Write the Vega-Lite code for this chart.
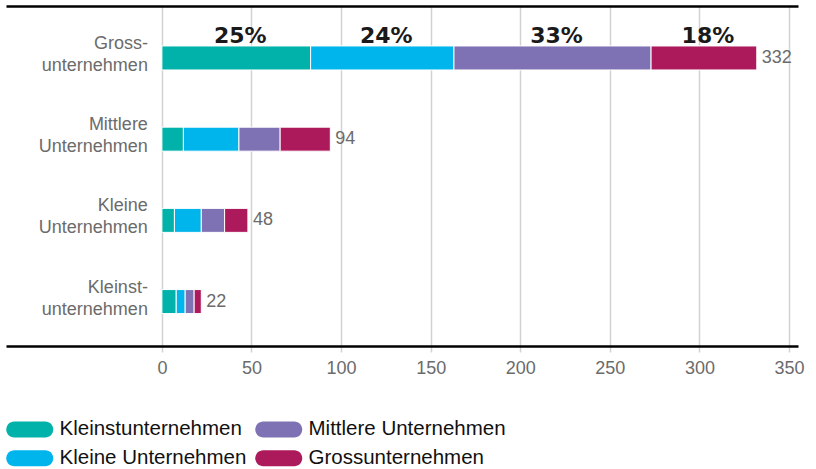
{
  "$schema": "https://vega.github.io/schema/vega-lite/v6.json",
  "width": 792,
  "height": 340,
  "padding": {"left": 6, "top": 6, "right": 18, "bottom": 0},
  "background": "white",
  "config": {"view": {"stroke": null}, "font": "Liberation Sans"},
  "datasets": {
    "segments": [
      {"size": "Grossunternehmen", "seg": "Kleinstunternehmen", "idx": 1, "value": 83, "pct": "25%"},
      {"size": "Grossunternehmen", "seg": "Kleine Unternehmen", "idx": 2, "value": 80, "pct": "24%"},
      {"size": "Grossunternehmen", "seg": "Mittlere Unternehmen", "idx": 3, "value": 110, "pct": "33%"},
      {"size": "Grossunternehmen", "seg": "Grossunternehmen", "idx": 4, "value": 59, "pct": "18%"},
      {"size": "Mittlere Unternehmen", "seg": "Kleinstunternehmen", "idx": 1, "value": 12, "pct": ""},
      {"size": "Mittlere Unternehmen", "seg": "Kleine Unternehmen", "idx": 2, "value": 31, "pct": ""},
      {"size": "Mittlere Unternehmen", "seg": "Mittlere Unternehmen", "idx": 3, "value": 23, "pct": ""},
      {"size": "Mittlere Unternehmen", "seg": "Grossunternehmen", "idx": 4, "value": 28, "pct": ""},
      {"size": "Kleine Unternehmen", "seg": "Kleinstunternehmen", "idx": 1, "value": 7, "pct": ""},
      {"size": "Kleine Unternehmen", "seg": "Kleine Unternehmen", "idx": 2, "value": 15, "pct": ""},
      {"size": "Kleine Unternehmen", "seg": "Mittlere Unternehmen", "idx": 3, "value": 13, "pct": ""},
      {"size": "Kleine Unternehmen", "seg": "Grossunternehmen", "idx": 4, "value": 13, "pct": ""},
      {"size": "Kleinstunternehmen", "seg": "Kleinstunternehmen", "idx": 1, "value": 8, "pct": ""},
      {"size": "Kleinstunternehmen", "seg": "Kleine Unternehmen", "idx": 2, "value": 5, "pct": ""},
      {"size": "Kleinstunternehmen", "seg": "Mittlere Unternehmen", "idx": 3, "value": 5, "pct": ""},
      {"size": "Kleinstunternehmen", "seg": "Grossunternehmen", "idx": 4, "value": 4, "pct": ""}
    ],
    "rows": [
      {"size": "Grossunternehmen", "label": "Gross-\nunternehmen"},
      {"size": "Mittlere Unternehmen", "label": "Mittlere\nUnternehmen"},
      {"size": "Kleine Unternehmen", "label": "Kleine\nUnternehmen"},
      {"size": "Kleinstunternehmen", "label": "Kleinst-\nunternehmen"}
    ]
  },
  "resolve": {"axis": {"x": "independent"}},
  "layer": [
    {
      "data": {"name": "segments"},
      "mark": {"type": "bar", "stroke": "white", "strokeWidth": 1},
      "encoding": {
        "y": {
          "field": "size", "type": "nominal",
          "scale": {
            "domain": ["Grossunternehmen", "Mittlere Unternehmen", "Kleine Unternehmen", "Kleinstunternehmen"],
            "paddingInner": 0.7044, "paddingOuter": 0.4457, "align": 0.552
          },
          "axis": null
        },
        "x": {
          "field": "value", "type": "quantitative", "stack": "zero",
          "scale": {"domain": [-87, 355], "nice": false, "zero": false},
          "axis": {
            "orient": "bottom", "title": null,
            "values": [0, 50, 100, 150, 200, 250, 300, 350],
            "grid": true, "gridColor": "#d2d2d2", "gridWidth": 1.5,
            "domain": true, "domainColor": "#000000", "domainWidth": 2.5,
            "ticks": true, "tickColor": "#d2d2d2", "tickWidth": 1.5, "tickSize": 6,
            "labelFont": "Liberation Sans", "labelFontSize": 18, "labelColor": "#6b6b6b",
            "labelPadding": 7
          }
        },
        "color": {
          "field": "seg", "type": "nominal",
          "scale": {
            "domain": ["Kleinstunternehmen", "Mittlere Unternehmen", "Kleine Unternehmen", "Grossunternehmen"],
            "range": ["#00B2A9", "#7F72B4", "#00B4EC", "#AD1A5B"]
          },
          "legend": {
            "title": null, "orient": "bottom", "direction": "horizontal", "columns": 2,
            "symbolType": "M -0.2 -0.8 L 2.9 -0.8 C 3.34 -0.8 3.7 -0.44 3.7 0 C 3.7 0.44 3.34 0.8 2.9 0.8 L -0.2 0.8 C -0.64 0.8 -1 0.44 -1 0 C -1 -0.44 -0.64 -0.8 -0.2 -0.8 Z",
            "symbolSize": 400, "symbolStrokeWidth": 0, "symbolOpacity": 1,
            "labelFont": "Liberation Sans", "labelFontSize": 20.5, "labelColor": "#111111",
            "labelOffset": 33, "labelLimit": 400, "columnPadding": 8, "rowPadding": 8,
            "offset": 42
          }
        },
        "order": {"field": "idx", "type": "quantitative"}
      }
    },
    {
      "data": {"name": "segments"},
      "transform": [{"filter": "datum.size === 'Grossunternehmen'"}],
      "mark": {
        "type": "text", "font": "DejaVu Sans", "fontWeight": "bold", "fontSize": 22,
        "color": "#1a1a1a", "baseline": "alphabetic", "align": "center", "dy": -3, "dx": 4
      },
      "encoding": {
        "y": {"field": "size", "type": "nominal", "bandPosition": 0},
        "x": {"field": "value", "type": "quantitative", "stack": "zero", "bandPosition": 0.5, "axis": null},
        "detail": {"field": "seg", "type": "nominal"},
        "order": {"field": "idx", "type": "quantitative"},
        "text": {"field": "pct", "type": "nominal"}
      }
    },
    {
      "data": {"name": "segments"},
      "transform": [{"aggregate": [{"op": "sum", "field": "value", "as": "total"}], "groupby": ["size"]}],
      "mark": {"type": "text", "align": "left", "baseline": "middle", "dx": 5, "fontSize": 18, "color": "#6b6b6b"},
      "encoding": {
        "y": {"field": "size", "type": "nominal"},
        "x": {
          "field": "total", "type": "quantitative",
          "axis": {
            "orient": "top", "title": null, "domain": true, "domainColor": "#000000", "domainWidth": 2.5,
            "labels": false, "ticks": false, "grid": false
          }
        },
        "text": {"field": "total", "type": "quantitative"}
      }
    },
    {
      "data": {"name": "rows"},
      "mark": {
        "type": "text", "align": "right", "baseline": "middle", "lineBreak": "\n", "lineHeight": 22,
        "dx": -14, "dy": -14, "fontSize": 18, "color": "#6b6b6b"
      },
      "encoding": {
        "y": {"field": "size", "type": "nominal"},
        "x": {"datum": 0, "type": "quantitative", "axis": null},
        "text": {"field": "label", "type": "nominal"}
      }
    }
  ]
}
